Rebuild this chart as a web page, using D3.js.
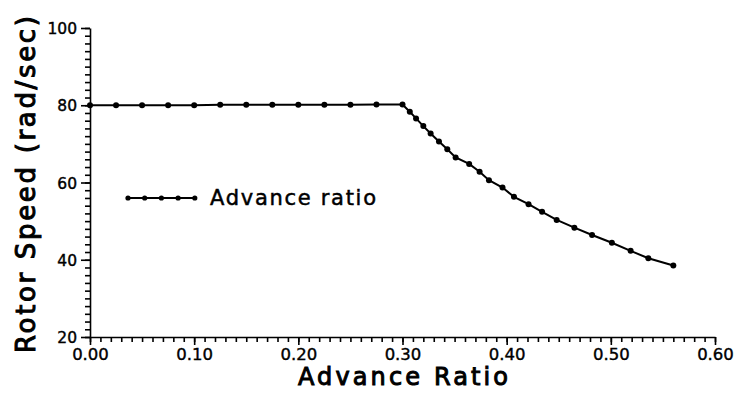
<!DOCTYPE html>
<html>
<head>
<meta charset="utf-8">
<script src="https://cdn.jsdelivr.net/npm/d3@7"></script>
<style>
  body { margin: 0; background: #fff; }
  svg text { font-family: "DejaVu Sans", sans-serif; fill: #000; }
</style>
</head>
<body>
<svg id="chart" width="734" height="397"></svg>
<script>
// advance ratio (x) and rotor speed in rad/sec (y)
const advance = [0, 0.025, 0.05, 0.075, 0.10, 0.125, 0.15, 0.175, 0.20, 0.225, 0.25, 0.275, 0.30,
    0.307, 0.313, 0.320, 0.327, 0.335, 0.343, 0.351, 0.364, 0.374, 0.383, 0.396, 0.407,
    0.421, 0.434, 0.448, 0.465, 0.482, 0.501, 0.519, 0.536, 0.560];
const rotorSpeed = [80, 80, 80, 80, 80, 80.1, 80.1, 80.1, 80.1, 80.1, 80.1, 80.2, 80.2,
    78.3, 76.6, 74.6, 72.7, 70.6, 68.6, 66.5, 64.8, 62.8, 60.6, 58.7, 56.3,
    54.4, 52.4, 50.3, 48.3, 46.4, 44.4, 42.3, 40.4, 38.5];
const xTicks = [0, 0.1, 0.2, 0.3, 0.4, 0.5, 0.6];
const yTicks = [20, 40, 60, 80, 100];
const seriesName = "Advance ratio";

const svg = d3.select("#chart");
const x = d3.scaleLinear().domain([0, 0.6]).range([90, 715]);
const y = d3.scaleLinear().domain([20, 100]).range([337, 28]);

// minor ticks first
svg.append("g")
    .attr("transform", "translate(0,337)")
    .call(d3.axisBottom(x).tickValues(d3.range(0, 61).map(i => i / 100)).tickSize(5).tickFormat(""))
    .call(g => g.select(".domain").remove());
svg.append("g")
    .attr("transform", "translate(90,0)")
    .call(d3.axisLeft(y).tickValues(d3.range(20, 101, 2)).tickSize(5).tickFormat(""))
    .call(g => g.select(".domain").remove());

const xAxis = svg.append("g")
    .attr("transform", "translate(0,337)")
    .call(d3.axisBottom(x).tickValues(xTicks).tickSize(8).tickSizeOuter(0).tickFormat(d3.format(".2f")));
xAxis.selectAll("text").attr("font-size", 16.5).attr("dy", 0).attr("y", 22.5)
    .attr("stroke", "#000").attr("stroke-width", 0.4);

const yAxis = svg.append("g")
    .attr("transform", "translate(90,0)")
    .call(d3.axisLeft(y).tickValues(yTicks).tickSize(9).tickSizeOuter(0).tickFormat(d3.format("d")));
yAxis.selectAll("text").attr("font-size", 15.5).attr("x", -13).attr("dy", "0.36em")
    .attr("stroke", "#000").attr("stroke-width", 0.4);

svg.selectAll(".domain, .tick line").attr("stroke", "#000").attr("stroke-width", 1.6);

const pts = advance.map((a, i) => [a, rotorSpeed[i]]);
const line = d3.line().x(d => x(d[0])).y(d => y(d[1]));

svg.append("path")
    .datum(pts)
    .attr("d", line)
    .attr("fill", "none")
    .attr("stroke", "#000")
    .attr("stroke-width", 2);

svg.append("g")
    .selectAll("circle")
    .data(pts)
    .enter().append("circle")
    .attr("cx", d => x(d[0]))
    .attr("cy", d => y(d[1]))
    .attr("r", 3)
    .attr("fill", "#000");

// legend
const legend = svg.append("g");
const lx = d3.range(5).map(i => 128 + i * 16.7);
legend.append("line")
    .attr("x1", lx[0]).attr("x2", lx[4])
    .attr("y1", 198).attr("y2", 198)
    .attr("stroke", "#000").attr("stroke-width", 2);
legend.selectAll("circle")
    .data(lx)
    .enter().append("circle")
    .attr("cx", d => d).attr("cy", 198).attr("r", 2.6).attr("fill", "#000");
legend.append("text")
    .attr("x", 210).attr("y", 205)
    .attr("font-size", 21)
    .attr("stroke", "#000").attr("stroke-width", 0.5)
    .attr("textLength", 166)
    .text(seriesName);

// axis titles
svg.append("text")
    .attr("x", 298).attr("y", 385)
    .attr("font-size", 24)
    .attr("stroke", "#000").attr("stroke-width", 1)
    .attr("textLength", 210)
    .text("Advance Ratio");

svg.append("text")
    .attr("transform", "translate(35,353) rotate(-90)")
    .attr("font-size", 26)
    .attr("stroke", "#000").attr("stroke-width", 1)
    .attr("textLength", 337)
    .text("Rotor Speed (rad/sec)");
</script>
</body>
</html>
